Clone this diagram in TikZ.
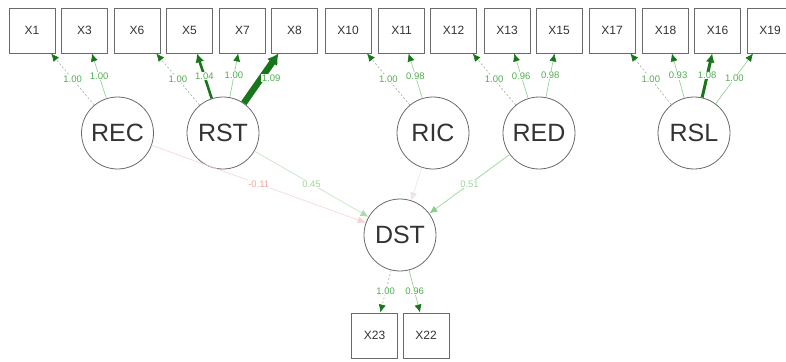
\documentclass[tikz,border=0pt]{standalone}
\usepackage{fontspec}
\setmainfont{Liberation Sans}
\usetikzlibrary{arrows.meta}
\definecolor{boxgray}{HTML}{6A6A6A}
\definecolor{txt}{HTML}{333333}
\definecolor{lgreen}{HTML}{86CF86}
\definecolor{dgreen}{HTML}{17761A}
\definecolor{fixgray}{HTML}{9DB09D}
\definecolor{lblgreen}{HTML}{4FAF4F}
\definecolor{fpink}{HTML}{F6D3D3}
\definecolor{fgreen}{HTML}{CBE8CB}
\definecolor{mgreen}{HTML}{A9DDA9}
\definecolor{fgray}{HTML}{EDE3E3}
\definecolor{lblred}{HTML}{F2A6A6}
\definecolor{lblfaint}{HTML}{9FD69F}
\begin{document}
\begin{tikzpicture}[x=1pt,y=-1pt,
  obs/.style={draw=boxgray,line width=0.8pt,minimum width=46pt,minimum height=45pt,inner sep=0pt,text=txt,font=\fontsize{12}{12}\selectfont},
  lat/.style={circle,draw=boxgray,line width=0.8pt,minimum size=72pt,inner sep=0pt,text=txt,font=\fontsize{25}{25}\selectfont},
  ld/.style={draw=lgreen,line width=0.6pt,-{Latex[length=8pt,width=7pt,color=dgreen]}},
  fixed/.style={draw=fixgray,line width=0.6pt,dash pattern=on 2pt off 2pt,-{Latex[length=8pt,width=7pt,color=dgreen]}},
  lbl/.style={fill=white,inner sep=0.5pt,text=lblgreen,font=\fontsize{9.5}{9.5}\selectfont},
  slbl/.style={fill=white,inner sep=0.5pt,font=\fontsize{9.5}{9.5}\selectfont},
]
\useasboundingbox (0,0) rectangle (786,361);
% observed
\node[obs] (X1) at (32,30.5) {X1};
\node[obs] (X3) at (84.5,30.5) {X3};
\node[obs] (X6) at (137,30.5) {X6};
\node[obs] (X5) at (189.5,30.5) {X5};
\node[obs] (X7) at (242.5,30.5) {X7};
\node[obs] (X8) at (294.5,30.5) {X8};
\node[obs] (X10) at (348,30.5) {X10};
\node[obs] (X11) at (401.5,30.5) {X11};
\node[obs] (X12) at (453.5,30.5) {X12};
\node[obs] (X13) at (507,30.5) {X13};
\node[obs] (X15) at (559,30.5) {X15};
\node[obs] (X17) at (612,30.5) {X17};
\node[obs] (X18) at (665.5,30.5) {X18};
\node[obs] (X16) at (717.5,30.5) {X16};
\node[obs] (X19) at (770,30.5) {X19};
\node[obs] (X23) at (374.5,335.5) {X23};
\node[obs] (X22) at (426,335.5) {X22};
% latent
\node[lat] (REC) at (117.5,133) {REC};
\node[lat] (RST) at (223,133) {RST};
\node[lat] (RIC) at (433,133) {RIC};
\node[lat] (RED) at (539,133) {RED};
\node[lat] (RSL) at (694,133) {RSL};
\node[lat] (DST) at (400,235) {DST};
% structural paths
\draw[draw=fgray,line width=0.6pt,-{Latex[length=8pt,width=7pt,color=fgray]}] (RIC) -- (DST);
\draw[draw=fpink,line width=0.6pt,-{Latex[length=8pt,width=7pt,color=fpink]}] (REC) -- (DST) node[slbl,midway,text=lblred] {-0.11};
\draw[draw=fgreen,line width=0.8pt,-{Latex[length=8pt,width=7pt,color=mgreen]}] (RST) -- (DST) node[slbl,midway,text=lblfaint] {0.45};
\draw[draw=mgreen,line width=0.9pt,-{Latex[length=8pt,width=7pt,color=lgreen]}] (RED) -- (DST) node[slbl,midway,text=lblfaint] {0.51};
% loadings
\draw[fixed] (REC) -- (X1) node[lbl,midway] {1.00};
\draw[ld] (REC) -- (X3) node[lbl,midway] {1.00};
\draw[fixed] (RST) -- (X6) node[lbl,midway] {1.00};
\draw[draw=dgreen,line width=2.6pt,-{Latex[length=9pt,width=9pt,color=dgreen]}] (RST) -- (X5) node[lbl,midway] {1.04};
\draw[ld] (RST) -- (X7) node[lbl,midway] {1.00};
\draw[draw=dgreen,line width=6.5pt,-{Latex[length=11pt,width=13pt,color=dgreen]}] (RST) -- (X8) node[lbl,midway,xshift=10pt] {1.09};
\draw[fixed] (RIC) -- (X10) node[lbl,midway] {1.00};
\draw[ld] (RIC) -- (X11) node[lbl,midway] {0.98};
\draw[fixed] (RED) -- (X12) node[lbl,midway] {1.00};
\draw[ld] (RED) -- (X13) node[lbl,midway] {0.96};
\draw[ld] (RED) -- (X15) node[lbl,midway] {0.98};
\draw[fixed] (RSL) -- (X17) node[lbl,midway] {1.00};
\draw[ld] (RSL) -- (X18) node[lbl,midway] {0.93};
\draw[draw=dgreen,line width=3pt,-{Latex[length=9pt,width=9pt,color=dgreen]}] (RSL) -- (X16) node[lbl,midway] {1.08};
\draw[ld] (RSL) -- (X19) node[lbl,midway] {1.00};
\draw[fixed] (DST) -- (X23) node[lbl,midway] {1.00};
\draw[ld] (DST) -- (X22) node[lbl,midway] {0.96};
\end{tikzpicture}
\end{document}
